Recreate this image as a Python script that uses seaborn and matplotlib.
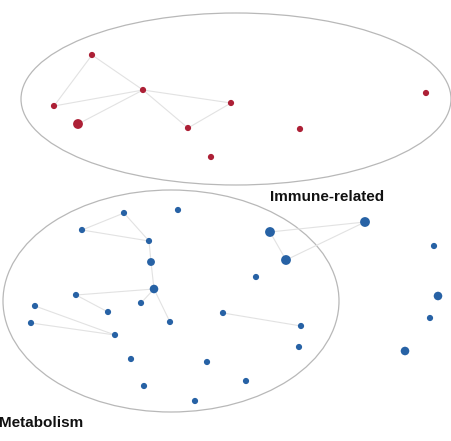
#!/usr/bin/env python
# network of two clusters: immune-related (red) and metabolism (blue)

import pandas as pd
import seaborn as sns
from matplotlib import pyplot as plt
from matplotlib.patches import Ellipse

# red cluster nodes (x, y in picture space, y grows downwards)
red_x = [92, 143, 54, 78, 231, 188, 300, 211, 426]
red_y = [55, 90, 106, 124, 103, 128, 129, 157, 93]
red_size = [1, 1, 1, 2, 1, 1, 1, 1, 1]
red_edges = [(0, 1), (0, 2), (2, 1), (3, 1), (1, 4), (1, 5), (5, 4)]

# blue cluster nodes
blue_x = [124, 178, 82, 149, 151, 154, 76, 35, 141, 108, 31, 170, 115,
          223, 301, 299, 131, 207, 144, 246, 195,
          270, 365, 286, 256, 434, 438, 430, 405]
blue_y = [213, 210, 230, 241, 262, 289, 295, 306, 303, 312, 323, 322, 335,
          313, 326, 347, 359, 362, 386, 381, 401,
          232, 222, 260, 277, 246, 296, 318, 351]
blue_size = [1, 1, 1, 1, 1.4, 1.6, 1, 1, 1, 1, 1, 1, 1,
             1, 1, 1, 1, 1, 1, 1, 1,
             2, 2, 2, 1, 1, 1.6, 1, 1.6]
blue_edges = [(0, 2), (0, 3), (2, 3), (3, 4), (4, 5), (5, 6), (5, 8),
              (5, 11), (6, 9), (7, 12), (10, 12), (13, 14),
              (21, 22), (21, 23), (23, 22)]

labels = ["Immune-related", "Metabolism"]

red = "#ad2036"
blue = "#2762a5"

sns.set_theme(style="white")
plt.rcParams['font.family'] = ['Liberation Sans', 'DejaVu Sans']

fig = plt.figure(figsize=(4.52, 4.41), dpi=100)
ax = fig.add_axes([0, 0, 1, 1])

# faint edges first
for xs, ys, edges in [(red_x, red_y, red_edges), (blue_x, blue_y, blue_edges)]:
    for a, b in edges:
        ax.plot([xs[a], xs[b]], [ys[a], ys[b]], color="#e2e2e2", lw=0.8, zorder=1)

# cluster outlines
ax.add_patch(Ellipse((236, 99), 430, 172, fill=False, ec="#b8b8b8", lw=0.9, zorder=0))
ax.add_patch(Ellipse((171, 301), 336, 222, fill=False, ec="#b8b8b8", lw=0.9, zorder=0))

nodes = pd.concat([
    pd.DataFrame({"x": red_x, "y": red_y, "size": red_size, "group": "red"}),
    pd.DataFrame({"x": blue_x, "y": blue_y, "size": blue_size, "group": "blue"}),
])

sns.scatterplot(data=nodes, x="x", y="y", hue="group", size="size",
                sizes=(20, 50), palette={"red": red, "blue": blue},
                edgecolor="none", legend=False, ax=ax, zorder=3)

ax.text(327, 197, labels[0], fontsize=11, fontweight="bold", color="#111111",
        ha="center", va="center")
ax.text(-1, 423, labels[1], fontsize=11, fontweight="bold", color="#111111",
        ha="left", va="center")

ax.set_xlim(0, 452)
ax.set_ylim(441, 0)
ax.set_axis_off()

fig.savefig("out.png", dpi=100)
